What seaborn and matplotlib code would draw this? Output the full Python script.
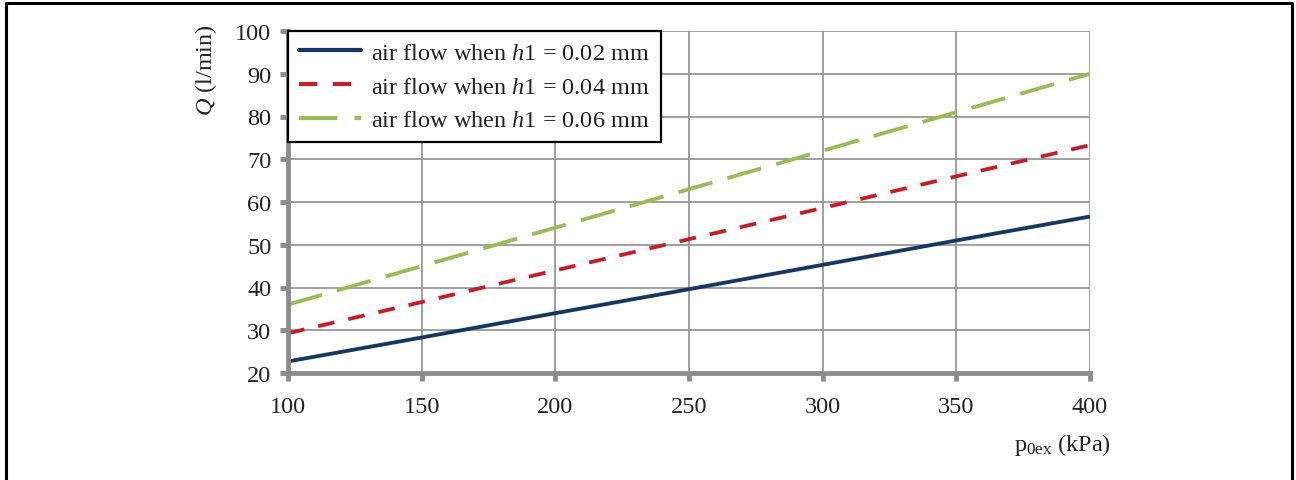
import matplotlib
matplotlib.use("Agg")
import matplotlib.pyplot as plt
import matplotlib.lines as mlines
import seaborn as sns
import pandas as pd

pressure = [100, 150, 200, 250, 300, 350, 400]
flow_h002 = [22.7, 28.3, 34.0, 39.6, 45.3, 51.0, 56.6]
flow_h004 = [29.3, 36.6, 44.0, 51.3, 58.6, 66.0, 73.3]
flow_h006 = [36.0, 45.0, 54.0, 63.0, 72.0, 81.0, 90.0]
series_labels = [r"air flow when $h$1 = 0.02 mm",
                 r"air flow when $h$1 = 0.04 mm",
                 r"air flow when $h$1 = 0.06 mm"]
x_ticks = [100, 150, 200, 250, 300, 350, 400]
y_ticks = [20, 30, 40, 50, 60, 70, 80, 90, 100]

sns.set_theme(style="white")
plt.rcParams['font.family'] = ['Liberation Serif', 'DejaVu Serif']
plt.rcParams['mathtext.fontset'] = 'custom'
plt.rcParams['mathtext.rm'] = 'Liberation Serif'
plt.rcParams['mathtext.it'] = 'Liberation Serif:italic'

FS = 17.5
TXT = "#222222"

rows = []
for lab, vals in zip(series_labels, [flow_h002, flow_h004, flow_h006]):
    for p, q in zip(pressure, vals):
        rows.append({"p": p, "Q": q, "series": lab})
df = pd.DataFrame(rows)

colors = {series_labels[0]: "#17375E", series_labels[1]: "#C0202A", series_labels[2]: "#9BBB59"}
dashes = {series_labels[0]: "", series_labels[1]: (4.4, 3.7), series_labels[2]: (9.2, 4.1)}

fig = plt.figure(figsize=(12.96, 4.81), dpi=100)
ax = fig.add_axes([288/1296, 1-374/481, (1090-288)/1296, (374-32)/481])

sns.lineplot(data=df, x="p", y="Q", hue="series", style="series",
             palette=colors, dashes=dashes, linewidth=2.75, ax=ax, legend=False)
for ln in ax.get_lines():
    ln.set_dash_capstyle('butt')
    ln.set_solid_capstyle('butt')

ax.set_xlim(100, 400)
ax.set_ylim(20, 100)
ax.set_xticks(x_ticks)
ax.set_yticks(y_ticks)
ax.grid(True, color="#999999", linewidth=1.3)
ax.set_axisbelow(True)
for s in ["top", "right"]:
    ax.spines[s].set_visible(False)
for s in ["left", "bottom"]:
    ax.spines[s].set_color("#8C8C8C")
    ax.spines[s].set_linewidth(3.5)
ax.tick_params(axis="both", which="major", direction="out", length=6, width=3.5,
               color="#8C8C8C", labelsize=FS, labelcolor=TXT,
               bottom=True, left=True)
ax.tick_params(axis="x", pad=10.5)
ax.tick_params(axis="y", pad=6)
ax.set_xlabel("")
ax.set_ylabel("")
fig.text(206/1296, 1-70/481, r"$Q$ (l/min)", fontsize=FS, color=TXT,
         rotation=90, ha="center", va="center")
fig.text(1062/1296, 1-445/481, r"$\mathregular{p_{0ex}}$ (kPa)", fontsize=FS,
         color=TXT, ha="center", va="center")

handles = []
for lab in series_labels:
    d = dashes[lab]
    h = mlines.Line2D([], [], color=colors[lab], linewidth=3.0,
                      linestyle="-" if d == "" else (0, d), dash_capstyle='butt')
    handles.append(h)
leg = ax.legend(handles, series_labels, loc="upper left", bbox_to_anchor=(0, 1),
                fontsize=FS, frameon=True, fancybox=False, framealpha=1,
                edgecolor="black", borderpad=0.45, handlelength=2.55,
                handletextpad=0.42, labelspacing=0.48, borderaxespad=0)
leg.get_frame().set_linewidth(1.6)
for t in leg.get_texts():
    t.set_color(TXT)

# outer frame (left, top, right)
fx0, fx1 = 6/1296, 1292/1296
fy1 = 1-4/481
fig.add_artist(mlines.Line2D([fx0, fx0, fx1, fx1], [0, fy1, fy1, 0],
                             transform=fig.transFigure, color="black", linewidth=2.2))

fig.savefig("out.png", dpi=100)
